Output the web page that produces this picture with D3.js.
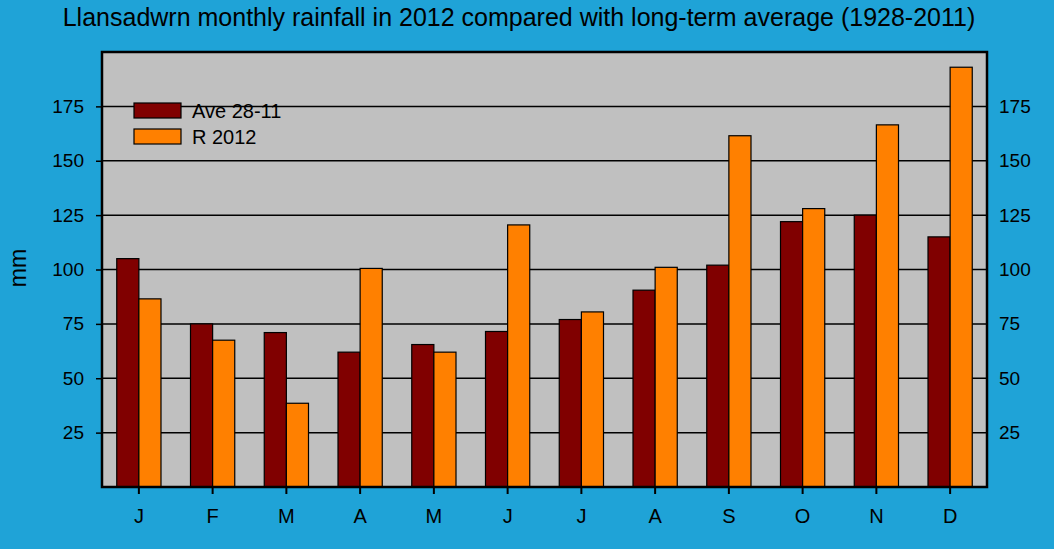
<!DOCTYPE html>
<html>
<head>
<meta charset="utf-8">
<script src="https://cdn.jsdelivr.net/npm/d3@7"></script>
<style>
  body { margin: 0; background: #1fa3d7; }
  text { font-family: "Liberation Sans", Arial, sans-serif; fill: #000; }
</style>
</head>
<body>
<svg id="chart" width="1054" height="549"></svg>
<script>
// monthly rainfall, mm
const months = ["J", "F", "M", "A", "M", "J", "J", "A", "S", "O", "N", "D"];
const aveValues = [105, 75, 71, 62, 65.5, 71.5, 77, 90.5, 102, 122, 125, 115];
const r2012Values = [86.5, 67.5, 38.5, 100.5, 62, 120.5, 80.5, 101, 161.5, 128, 166.5, 193];
const yTicks = [25, 50, 75, 100, 125, 150, 175];
const seriesNames = ["Ave 28-11", "R 2012"];
const seriesColors = ["#800000", "#ff8000"];

const margin = {top: 52, right: 67, bottom: 62, left: 102},
    width = 1054 - margin.left - margin.right,
    height = 549 - margin.top - margin.bottom;

const svg = d3.select("#chart");

svg.append("rect")
    .attr("width", 1054).attr("height", 549)
    .attr("fill", "#1fa3d7");

svg.append("text")
    .attr("x", 519).attr("y", 26)
    .attr("text-anchor", "middle")
    .style("font-size", "25px")
    .text("Llansadwrn monthly rainfall in 2012 compared with long-term average (1928-2011)");

const g = svg.append("g").attr("transform", `translate(${margin.left},${margin.top})`);

const x = d3.scaleBand().domain(d3.range(12)).range([0, width]);
const y = d3.scaleLinear().domain([0, 200]).range([height, 0]);
const xInner = d3.scaleBand().domain([0, 1]).range([0, x.bandwidth() * 0.6]);

g.append("rect")
    .attr("width", width).attr("height", height)
    .attr("fill", "#c0c0c0");

// gridlines
g.selectAll(".grid")
    .data(yTicks)
    .enter().append("line")
    .attr("x1", 0).attr("x2", width)
    .attr("y1", d => y(d)).attr("y2", d => y(d))
    .attr("stroke", "#000").attr("stroke-width", 1.5);

const data = months.map((m, i) => ({i: i, vals: [aveValues[i], r2012Values[i]]}));

const groups = g.selectAll(".month")
    .data(data)
    .enter().append("g")
    .attr("transform", d => `translate(${x(d.i) + x.bandwidth() * 0.2},0)`);

groups.selectAll("rect")
    .data(d => d.vals.map((v, k) => ({k: k, v: v})))
    .enter().append("rect")
    .attr("x", d => xInner(d.k))
    .attr("width", xInner.bandwidth())
    .attr("y", d => y(d.v))
    .attr("height", d => height - y(d.v))
    .attr("fill", d => seriesColors[d.k])
    .attr("stroke", "#000").attr("stroke-width", 1.2);

// frame
g.append("rect")
    .attr("width", width).attr("height", height)
    .attr("fill", "none")
    .attr("stroke", "#000").attr("stroke-width", 2.5);

// left axis
const yLeft = g.append("g")
    .call(d3.axisLeft(y).tickValues(yTicks).tickSize(6).tickPadding(12));
yLeft.select(".domain").remove();
yLeft.selectAll("line").attr("stroke", "#000").attr("stroke-width", 1.5);
yLeft.selectAll("text").style("font-size", "19px");

// right axis labels only
const yRight = g.append("g")
    .attr("transform", `translate(${width},0)`)
    .call(d3.axisRight(y).tickValues(yTicks).tickSize(0).tickPadding(12));
yRight.select(".domain").remove();
yRight.selectAll("text").style("font-size", "19px");

// bottom axis
const xAxis = g.append("g")
    .attr("transform", `translate(0,${height})`)
    .call(d3.axisBottom(x).tickFormat(i => months[i]).tickSize(7).tickPadding(15));
xAxis.select(".domain").remove();
xAxis.selectAll("line").attr("stroke", "#000").attr("stroke-width", 2);
xAxis.selectAll("text").style("font-size", "20px");

svg.append("text")
    .attr("transform", "translate(26,268) rotate(-90)")
    .attr("text-anchor", "middle")
    .style("font-size", "23px")
    .text("mm");

// legend
const legend = g.selectAll(".legend")
    .data(seriesNames)
    .enter().append("g")
    .attr("transform", (d, i) => `translate(32,${51 + i * 26})`);
legend.append("rect")
    .attr("width", 47).attr("height", 15)
    .attr("fill", (d, i) => seriesColors[i])
    .attr("stroke", "#000").attr("stroke-width", 1.2);
legend.append("text")
    .attr("x", 58).attr("y", 15)
    .style("font-size", "20px")
    .text(d => d);
</script>
</body>
</html>
